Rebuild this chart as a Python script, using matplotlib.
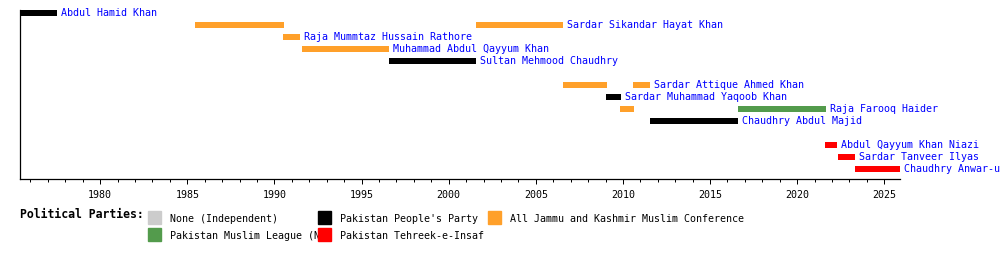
import matplotlib
matplotlib.use("Agg")
import matplotlib.pyplot as plt
from matplotlib.patches import Rectangle

# one label per row ('' = empty row)
row_names = [
    "Abdul Hamid Khan", "Sardar Sikandar Hayat Khan", "Raja Mummtaz Hussain Rathore",
    "Muhammad Abdul Qayyum Khan", "Sultan Mehmood Chaudhry", "",
    "Sardar Attique Ahmed Khan", "Sardar Muhammad Yaqoob Khan", "Raja Farooq Haider",
    "Chaudhry Abdul Majid", "", "Abdul Qayyum Khan Niazi", "Sardar Tanveer Ilyas",
    "Chaudhry Anwar-ul-Haq",
]

# terms in office
term_row = [0, 1, 1, 2, 3, 4, 6, 6, 7, 8, 8, 9, 11, 12, 13]
term_start = [1975.4, 1985.45, 2001.56, 1990.5, 1991.58, 1996.57, 2006.55, 2010.56,
              2009.01, 2009.82, 2016.58, 2011.54, 2021.57, 2022.32, 2023.29]
term_end = [1977.5, 1990.55, 2006.55, 1991.47, 1996.57, 2001.56, 2009.07, 2011.57,
            2009.87, 2010.62, 2021.63, 2016.62, 2022.3, 2023.33, 2025.9]
term_party = ["PPP", "MC", "MC", "MC", "MC", "PPP", "MC", "MC",
              "PPP", "MC", "PMLN", "PPP", "PTI", "PTI", "PTI"]

party_keys = ["IND", "PPP", "MC", "PMLN", "PTI"]
party_names = ["None (Independent)", "Pakistan People's Party",
               "All Jammu and Kashmir Muslim Conference",
               "Pakistan Muslim League (N)", "Pakistan Tehreek-e-Insaf"]
party_colors = ["#cccccc", "#000000", "#ffa02a", "#539b4c", "#ff0000"]
colors = dict(zip(party_keys, party_colors))

year_min, year_max = 1975.4, 2025.9
major_ticks = [1980, 1985, 1990, 1995, 2000, 2005, 2010, 2015, 2020, 2025]
minor_ticks = list(range(1976, 2026))

mono = "DejaVu Sans Mono"
W, H = 1000, 279
fig = plt.figure(figsize=(W / 100, H / 100), dpi=100)
ax = fig.add_axes([20 / W, 1 - 179 / H, 880 / W, 172 / H])

for r, s, e, p in zip(term_row, term_start, term_end, term_party):
    ax.barh(r, e - s, left=s, height=0.5, color=colors[p], linewidth=0)

# label after the last term in each row
for r, name in enumerate(row_names):
    if not name:
        continue
    last = max(e for rr, e in zip(term_row, term_end) if rr == r)
    ax.annotate(name, (last, r), xytext=(2.9, 0), textcoords="offset points",
                va="center", ha="left", color="#0000ff", family=mono,
                fontsize=7.2, annotation_clip=False)

ax.set_xlim(year_min, year_max)
ax.set_ylim(len(row_names) - 1 + 0.83, -0.5)
ax.set_yticks([])
ax.set_xticks(major_ticks)
ax.set_xticks(minor_ticks, minor=True)
ax.set_xticklabels([str(t) for t in major_ticks], family=mono, fontsize=7.2)
ax.tick_params(axis="x", which="major", length=3.6, width=0.72, pad=4)
ax.tick_params(axis="x", which="minor", length=2.2, width=0.72)
for side in ["top", "right"]:
    ax.spines[side].set_visible(False)
ax.spines["left"].set_linewidth(0.9)
ax.spines["bottom"].set_linewidth(0.9)
ax.spines["left"].set_bounds(len(row_names) - 1 + 0.83, -0.25)

# legend
fig.text(20 / W, 1 - 214 / H, "Political Parties:", family=mono, weight="bold",
         fontsize=8.3, va="center", ha="left")
leg_x = [148, 318, 488, 148, 318]
leg_y = [217, 217, 217, 234, 234]
for i, (name, col) in enumerate(zip(party_names, party_colors)):
    x0, yc = leg_x[i], leg_y[i]
    fig.text((x0 + 22) / W, 1 - (yc + 2) / H, name, family=mono, fontsize=7.2,
             va="center", ha="left", zorder=1)
for i, col in enumerate(party_colors):
    x0, yc = leg_x[i], leg_y[i]
    fig.patches.append(Rectangle(((x0) / W, 1 - (yc + 6.5) / H), 13 / W, 13 / H,
                                 transform=fig.transFigure, color=col, zorder=5))

fig.savefig("out.png", dpi=100)
